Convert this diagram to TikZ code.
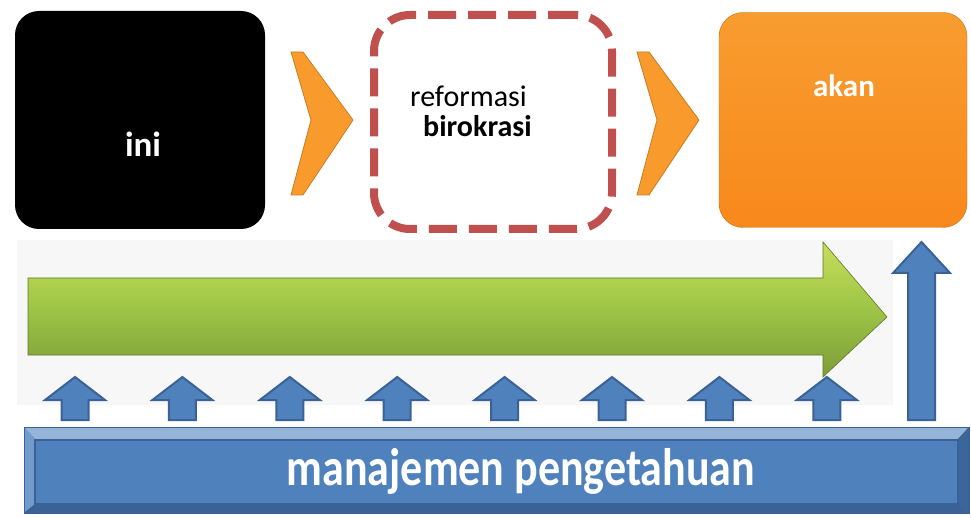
\documentclass[tikz,border=0pt]{standalone}
\usepackage{fontspec}
\setmainfont{Carlito}
\usetikzlibrary{positioning, calc}
\definecolor{stageorange}{HTML}{F7941E}
\definecolor{chevron}{HTML}{F89B2C}
\definecolor{dashred}{HTML}{C0504D}
\definecolor{flowgreen}{HTML}{9DC446}
\definecolor{kmblue}{HTML}{4F81BD}
\definecolor{kmedge}{HTML}{3A6296}

\begin{document}
\begin{tikzpicture}[x=1pt, y=-1pt]
        % Definitions
        \def\arrowStep{107.4}
        \def\arrowTop{377}
        \def\arrowBase{420}

        % Styles
        \tikzstyle{stage} = [rounded corners=24pt, minimum width=250pt, minimum height=218pt, inner sep=0pt]
        \tikzstyle{chev} = [fill=chevron, draw=chevron!80!black, line width=0.8pt, line join=round]
        \tikzstyle{up} = [fill=kmblue, draw=kmedge, line width=2pt, line join=miter]
        \tikzstyle{word} = [inner sep=0pt, font=\fontsize{30}{34}\selectfont]

        \useasboundingbox (0,0) rectangle (971,518);

        % Backdrop behind the flow
        \fill[black!3] (17,240) rectangle (893,405);

        % Stages
        \node[stage, fill=black] (now) at (140,120) {};
        \node[stage, draw=dashred, line width=8pt, dash pattern=on 28pt off 12pt, rounded corners=36pt,
              minimum width=238pt, minimum height=214pt] (reform) at (493,122) {};
        \node[stage, top color=stageorange!92!white, bottom color=stageorange!92!red, draw=stageorange!80!black,
              minimum width=248pt, minimum height=215pt] (later) at (843,120) {};

        \node[word, anchor=base, text=white, font=\bfseries\fontsize{35}{38}\selectfont] (ini) at (143,157) {ini};
        \node[word, anchor=base west] (reformasi) at (410,107) {reformasi};
        \node[word, anchor=base west, font=\bfseries\fontsize{30}{34}\selectfont] (birokrasi) at (423,137) {birokrasi};
        \node[word, anchor=base, text=white, font=\bfseries\fontsize{31}{34}\selectfont] (akan) at (844,97) {akan};

        % Chevrons between stages
        \foreach \cx in {291, 637} {
            \draw[chev] (\cx,52) -- (\cx+12,52) -- (\cx+62,120) -- (\cx+12,195) -- (\cx,195) -- (\cx+20,120) -- cycle;
        }

        % Big green arrow
        \shade[top color=flowgreen!70!yellow!80!white, bottom color=flowgreen!80!black, middle color=flowgreen]
            (28,278) -- (823,278) -- (823,242) -- (887,317) -- (823,377) -- (823,355) -- (28,355) -- cycle;
        \draw[flowgreen!60!black, line width=0.6pt]
            (28,278) -- (823,278) -- (823,242) -- (887,317) -- (823,377) -- (823,355) -- (28,355) -- cycle;

        % Knowledge base bar
        \node[fill=kmblue, draw=kmedge, line width=1.5pt, minimum width=943pt, minimum height=84pt, inner sep=0pt] (bar) at (496.5,470) {};
        \fill[kmblue!60!white] (bar.north west) -- (bar.north east) -- ($(bar.north east)+(-11,12)$) -- ($(bar.north west)+(11,12)$) -- cycle;
        \fill[kmblue!80!white] (bar.north west) -- ($(bar.north west)+(11,12)$) -- ($(bar.south west)+(11,-9)$) -- (bar.south west) -- cycle;
        \fill[kmedge] (bar.south west) -- ($(bar.south west)+(11,-9)$) -- ($(bar.south east)+(-11,-9)$) -- (bar.south east) -- cycle;
        \fill[kmedge!90!kmblue] (bar.north east) -- ($(bar.north east)+(-11,12)$) -- ($(bar.south east)+(-11,-9)$) -- (bar.south east) -- cycle;
        \draw[kmedge, line width=2pt] ($(bar.north west)+(11,13)$) rectangle ($(bar.south east)+(-11,-9)$);
        \draw[kmedge, line width=1.5pt] (bar.north west) rectangle (bar.south east);
        \node[anchor=base, text=white, inner sep=0pt, font=\bfseries\fontsize{44}{48}\selectfont] (km) at (521,485)
            {\scalebox{1}[1.2]{manajemen pengetahuan}};

        % Small arrows feeding the flow
        \foreach \i in {0,...,7} {
            \pgfmathsetmacro\x{75+\i*\arrowStep}
            \draw[up] (\x-13.5,\arrowBase) -- (\x-13.5,400) -- (\x-30,400) -- (\x,\arrowTop)
                -- (\x+30,400) -- (\x+13.5,400) -- (\x+13.5,\arrowBase) -- cycle;
        }

        % Tall arrow up to the last stage
        \draw[up] (908,\arrowBase) -- (908,273) -- (893,273) -- (921.5,242) -- (950,273) -- (935,273) -- (935,\arrowBase) -- cycle;

    \end{tikzpicture}
\end{document}
